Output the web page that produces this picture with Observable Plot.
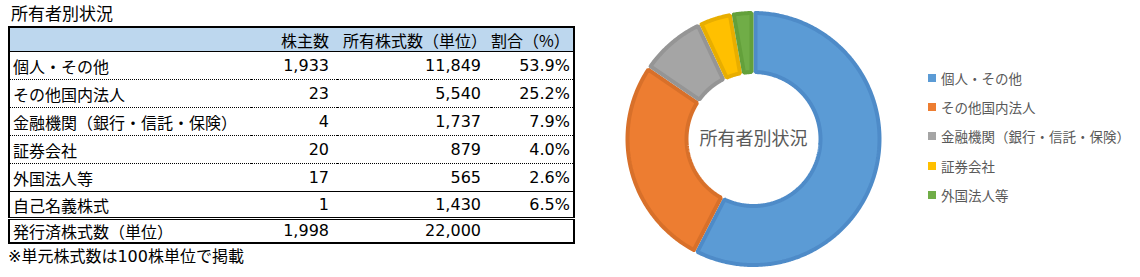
<!DOCTYPE html>
<html>
<head>
<meta charset="utf-8">
<script src="https://cdn.jsdelivr.net/npm/d3@7"></script>
<script src="https://cdn.jsdelivr.net/npm/@observablehq/plot@0.6"></script>
<style>
  html, body { margin: 0; padding: 0; background: #fff; }
  #root { position: relative; width: 1140px; height: 277px; overflow: hidden; font-family: "DejaVu Sans", "Noto Sans CJK JP", sans-serif; color: #000; }
  #title { position: absolute; left: 11px; top: 2px; font-size: 17px; line-height: 22px; font-family: "Noto Sans CJK JP", sans-serif; }
  #tbl { position: absolute; left: 8px; top: 26px; width: 565px; border-collapse: collapse; table-layout: fixed; border: 2px solid #000; font-size: 16px; }
  #tbl td { padding: 0; white-space: nowrap; line-height: 20px; }
  #tbl tr.head td { background: #BDD7EE; height: 23px; border-bottom: 1px solid #000; font-family: "Noto Sans CJK JP", sans-serif; font-size: 16px; }
  #tbl tr.row td { height: 27px; border-bottom: 1px dotted #000; }
  #tbl tr.row.last5 td { border-bottom: 1px solid #000; }
  #tbl tr.row.own td { height: 25px; border-bottom: 3px double #000; }
  #tbl tr.total td { height: 22px; }
  #tbl td.lab { padding-left: 3px; font-family: "Noto Sans CJK JP", sans-serif; }
  #tbl td.num { text-align: right; }
  #note { position: absolute; left: 8px; top: 246px; font-size: 16px; line-height: 22px; font-family: "DejaVu Sans", "Noto Sans CJK JP", sans-serif; }
  #chart { position: absolute; left: 603px; top: 0px; }
  #legend { position: absolute; left: 928px; top: 63px; font-family: "Noto Sans CJK JP", sans-serif; font-size: 13.5px; color: #595959; }
  #legend .item { height: 29.3px; display: flex; align-items: center; white-space: nowrap; }
  #legend .sw { width: 8px; height: 8px; margin-right: 5px; flex: none; }
</style>
</head>
<body>
<div id="root">
  <div id="title"></div>
  <table id="tbl"><colgroup><col style="width:242px"><col style="width:86px"><col style="width:154px"><col style="width:83px"></colgroup><tbody></tbody></table>
  <div id="note"></div>
  <div id="chart"></div>
  <div id="legend"></div>
</div>
<script>
// ---- data ----
const tableTitle = "所有者別状況";
const headers = ["", "株主数", "所有株式数（単位）", "割合（%）"];
const categories = ["個人・その他", "その他国内法人", "金融機関（銀行・信託・保険）", "証券会社", "外国法人等", "自己名義株式"];
const shareholders = [1933, 23, 4, 20, 17, 1];
const sharesUnits = [11849, 5540, 1737, 879, 565, 1430];
const ratios = [53.9, 25.2, 7.9, 4.0, 2.6, 6.5];
const totalLabel = "発行済株式数（単位）";
const totalShareholders = 1998;
const totalShares = 22000;
const footnote = "※単元株式数は100株単位で掲載";

const chartCategories = ["個人・その他", "その他国内法人", "金融機関（銀行・信託・保険）", "証券会社", "外国法人等"];
const chartValues = [11849, 5540, 1737, 879, 565];
const fillColors = ["#5B9BD5", "#ED7D31", "#A5A5A5", "#FFC000", "#70AD47"];
const edgeColors = ["#4E8BC8", "#D8702A", "#959595", "#E8AE00", "#63A03B"];
const centerLabel = "所有者別状況";

// ---- table ----
const fmt = d3.format(",");
document.getElementById("title").textContent = tableTitle;
document.getElementById("note").textContent = footnote;
const tbody = document.querySelector("#tbl tbody");
function addRow(cls, cells) {
  const tr = document.createElement("tr");
  tr.className = cls;
  cells.forEach(([text, c, style]) => {
    const td = document.createElement("td");
    td.textContent = text;
    if (c) td.className = c;
    if (style) td.setAttribute("style", style);
    tr.appendChild(td);
  });
  tbody.appendChild(tr);
}
addRow("head", [
  [headers[0], "lab"],
  [headers[1], "", "text-align:right;padding-right:8px"],
  [headers[2], "", "text-align:right;padding-right:4px"],
  [headers[3], "", "text-align:right;padding-right:4px"]
]);
categories.forEach((c, i) => {
  const cls = "row" + (i === 4 ? " last5" : "") + (i === 5 ? " own" : "");
  addRow(cls, [
    [c, "lab"],
    [fmt(shareholders[i]), "num", "padding-right:8px"],
    [fmt(sharesUnits[i]), "num", "padding-right:10px"],
    [ratios[i].toFixed(1) + "%", "num", "padding-right:3px"]
  ]);
});
addRow("total", [
  [totalLabel, "lab"],
  [fmt(totalShareholders), "num", "padding-right:8px"],
  [fmt(totalShares), "num", "padding-right:10px"],
  ["", "num"]
]);

// ---- donut ----
const R = 128, r = 65, inset = 2;
const arcs = d3.pie().sort(null).value(d => d)(chartValues);
const marks = [];
arcs.forEach((a, i) => {
  const ro = R - inset, ri = r + inset;
  const pts = [];
  const n = Math.max(4, Math.ceil((a.endAngle - a.startAngle) * 90));
  const o0 = a.startAngle + inset / ro, o1 = a.endAngle - inset / ro;
  const i0 = a.startAngle + inset / ri, i1 = a.endAngle - inset / ri;
  for (let k = 0; k <= n; k++) { const t = o0 + (o1 - o0) * k / n; pts.push({x: ro * Math.sin(t), y: ro * Math.cos(t)}); }
  for (let k = n; k >= 0; k--) { const t = i0 + (i1 - i0) * k / n; pts.push({x: ri * Math.sin(t), y: ri * Math.cos(t)}); }
  pts.push(pts[0]);
  marks.push(Plot.line(pts, {x: "x", y: "y", fill: fillColors[i], stroke: edgeColors[i], strokeWidth: 4, strokeLinejoin: "miter", curve: "linear"}));
});
marks.push(Plot.text([centerLabel], {x: 0, y: 0, text: d => d, fontSize: 18, fill: "#595959", fontFamily: "'Noto Sans CJK JP', sans-serif"}));

const chart = Plot.plot({
  width: 300, height: 277,
  margin: 0,
  x: {domain: [-150, 150], axis: null},
  y: {domain: [-138.5, 138.5], axis: null},
  style: {background: "transparent", fontFamily: "'Noto Sans CJK JP', sans-serif"},
  marks
});
document.getElementById("chart").appendChild(chart);

// ---- legend ----
const legend = document.getElementById("legend");
chartCategories.forEach((c, i) => {
  const item = document.createElement("div");
  item.className = "item";
  const sw = document.createElement("span");
  sw.className = "sw";
  sw.style.background = fillColors[i];
  const lab = document.createElement("span");
  lab.textContent = c;
  item.appendChild(sw); item.appendChild(lab);
  legend.appendChild(item);
});
</script>
</body>
</html>
